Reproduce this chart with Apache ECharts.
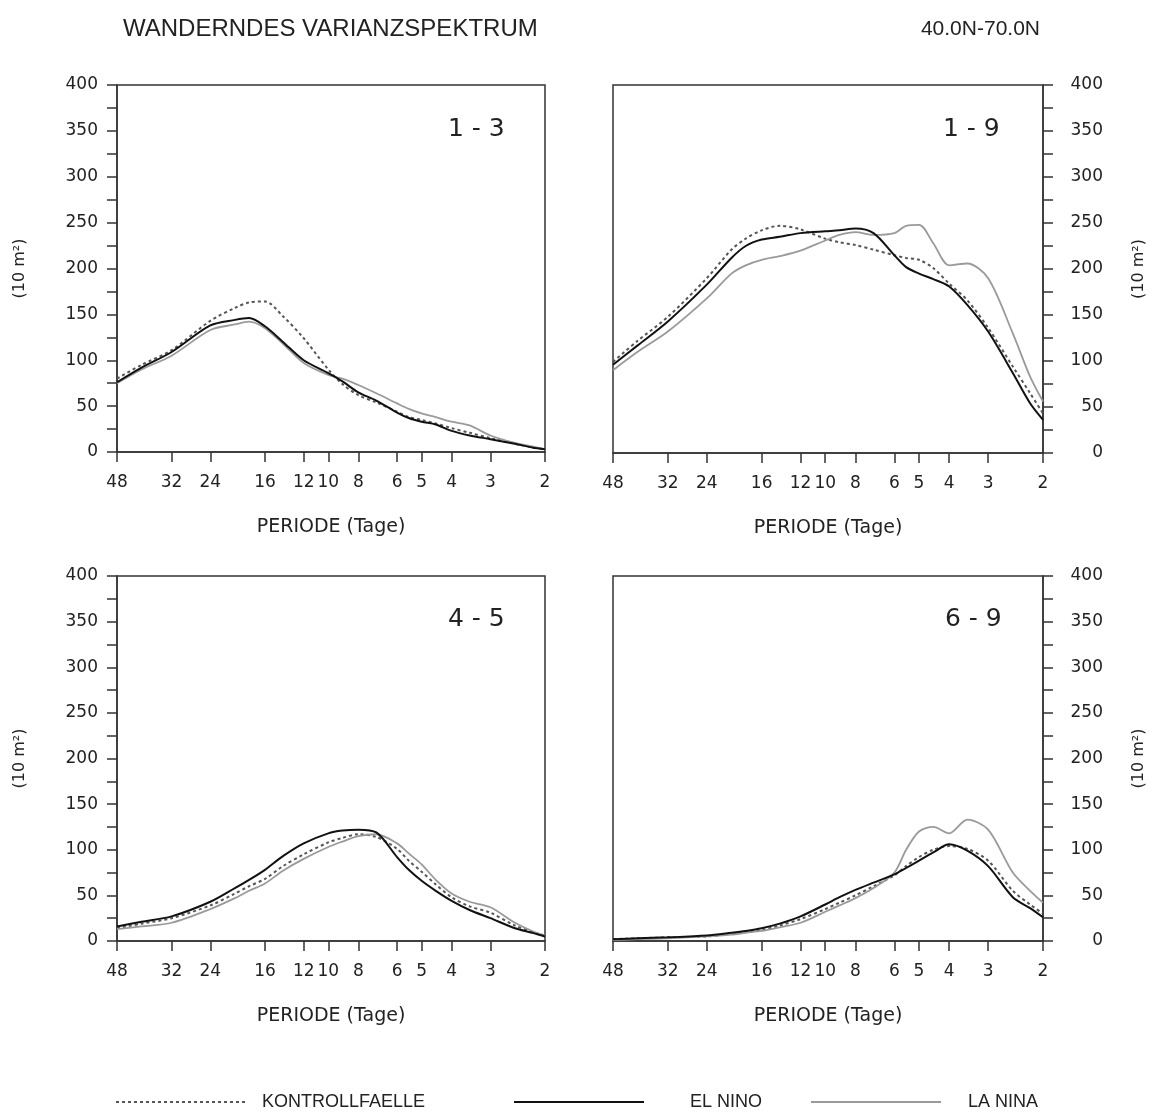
<!DOCTYPE html>
<html>
<head>
<meta charset="utf-8">
<script src="https://cdn.jsdelivr.net/npm/echarts@6/dist/echarts.min.js"></script>
<style>
  html, body { margin: 0; padding: 0; background: #fff; }
  #chart { width: 1153px; height: 1112px; }
</style>
</head>
<body>
<div id="chart"></div>
<script>
// Perioden (Tage), gemeinsame Stuetzstellen fuer alle Kurven
var periods = [48, 40, 32, 24, 20, 18, 16, 14, 12, 10, 9, 8, 7, 6, 5.5, 5, 4.5, 4, 3.5, 3, 2.5, 2.2, 2];
var tickPeriods = [48, 32, 24, 16, 12, 10, 8, 6, 5, 4, 3, 2];

// Wellenzahl 1-3
var kontroll13 = [80, 95, 111, 143, 157, 163, 164, 148, 124, 90, 74, 62, 54, 44, 38, 35, 31, 26, 21, 15, 9, 5, 3];
var elnino13   = [76, 92, 109, 138, 144, 146, 137, 120, 100, 86, 77, 65, 56, 43, 37, 33, 30, 23, 18, 14, 9, 5, 3];
var lanina13   = [75, 90, 105, 133, 139, 142, 135, 118, 97, 84, 80, 73, 64, 53, 47, 42, 38, 33, 29, 18, 10, 6, 3];

// Wellenzahl 1-9
var kontroll19 = [99, 122, 148, 190, 221, 233, 242, 247, 243, 233, 229, 226, 221, 215, 212, 210, 201, 184, 166, 136, 94, 65, 43];
var elnino19   = [96, 117, 143, 183, 212, 225, 232, 235, 239, 241, 242, 244, 239, 215, 202, 195, 189, 181, 161, 132, 87, 54, 36];
var lanina19   = [90, 110, 132, 168, 195, 204, 210, 214, 220, 231, 237, 240, 237, 239, 247, 248, 228, 204, 206, 190, 130, 83, 56];

// Wellenzahl 4-5
var kontroll45 = [14, 19, 25, 39, 52, 60, 68, 82, 95, 108, 113, 117, 114, 101, 88, 76, 62, 48, 38, 31, 17, 10, 6];
var elnino45   = [16, 21, 27, 43, 58, 67, 78, 93, 107, 118, 121, 122, 119, 92, 78, 66, 55, 44, 34, 25, 14, 9, 5];
var lanina45   = [13, 16, 20, 35, 47, 55, 63, 77, 90, 103, 109, 115, 117, 107, 96, 84, 67, 52, 43, 37, 20, 11, 6];

// Wellenzahl 6-9
var kontroll69 = [2, 3, 4, 5, 8, 10, 12, 17, 24, 35, 42, 50, 60, 72, 82, 92, 100, 104, 101, 88, 55, 40, 30];
var elnino69   = [2, 3, 4, 6, 9, 11, 14, 19, 27, 40, 48, 56, 64, 73, 80, 88, 97, 106, 99, 82, 48, 36, 26];
var lanina69   = [1, 2, 3, 5, 7, 9, 11, 15, 20, 32, 39, 47, 58, 75, 100, 120, 125, 118, 133, 122, 75, 55, 42];

var panelNames = ['1 - 3', '1 - 9', '4 - 5', '6 - 9'];
var seriesNames = ['KONTROLLFAELLE', 'EL NINO', 'LA NINA'];

var panels = [
    [kontroll13, elnino13, lanina13],
    [kontroll19, elnino19, lanina19],
    [kontroll45, elnino45, lanina45],
    [kontroll69, elnino69, lanina69]
];

var tickFont = 'DejaVu Sans';
var textColor = '#222';
var axisColor = '#333';

// x-Achse logarithmisch in der Periode
function periodToX(p) {
    return Math.log(48 / p);
}

function GetLineData(values) {
    var Ret = [];
    for (var i = 0; i < periods.length; i++) {
        Ret.push([periodToX(periods[i]), values[i]]);
    }
    return Ret;
}

var tickX = [];
for (var i = 0; i < tickPeriods.length; i++) {
    tickX.push(periodToX(tickPeriods[i]));
}

var grids = [
    { left: 117, top: 85, width: 428, height: 367 },
    { left: 613, top: 85, width: 430, height: 368 },
    { left: 117, top: 576, width: 428, height: 365 },
    { left: 613, top: 576, width: 430, height: 365 }
];

var lineStyles = [
    { color: '#555', width: 2, type: [3, 3] },
    { color: '#111', width: 2, type: 'solid' },
    { color: '#9a9a9a', width: 1.8, type: 'solid' }
];

var xAxes = [], yAxes = [], series = [];
for (var g = 0; g < 4; g++) {
    grids[g].show = true;
    grids[g].borderColor = axisColor;
    grids[g].borderWidth = 1.5;
    var right = (g % 2 === 1);

    xAxes.push({
        gridIndex: g,
        type: 'value',
        min: 0,
        max: periodToX(2),
        axisLine: { show: true, onZero: false, lineStyle: { color: axisColor, width: 1.5 } },
        axisTick: { show: true, customValues: tickX, length: 10, lineStyle: { color: axisColor, width: 1.5 } },
        axisLabel: {
            customValues: tickX,
            margin: 22,
            fontFamily: tickFont,
            fontSize: 17,
            color: textColor,
            formatter: function (v) {
                return String(Math.round(48 / Math.exp(v)));
            }
        },
        splitLine: { show: false },
        name: 'PERIODE (Tage)',
        nameLocation: 'middle',
        nameGap: 66,
        nameTextStyle: { fontFamily: tickFont, fontSize: 19, color: textColor }
    });

    yAxes.push({
        gridIndex: g,
        type: 'value',
        position: right ? 'right' : 'left',
        min: 0,
        max: 400,
        interval: 50,
        axisLine: { show: true, onZero: false, lineStyle: { color: axisColor, width: 1.5 } },
        axisTick: { show: true, length: 10, lineStyle: { color: axisColor, width: 1.5 } },
        minorTick: { show: true, splitNumber: 2, length: 10, lineStyle: { color: axisColor, width: 1.5 } },
        axisLabel: {
            margin: right ? 60 : 19,
            align: 'right',
            fontFamily: tickFont,
            fontSize: 17,
            color: textColor
        },
        splitLine: { show: false },
        name: '(10 m²)',
        nameLocation: 'middle',
        nameGap: right ? 88 : 89,
        nameRotate: 90,
        nameTextStyle: { fontFamily: tickFont, fontSize: 16, color: textColor }
    });

    for (var s = 0; s < 3; s++) {
        series.push({
            name: seriesNames[s],
            type: 'line',
            xAxisIndex: g,
            yAxisIndex: g,
            data: GetLineData(panels[g][s]),
            smooth: 0.3,
            symbol: 'none',
            lineStyle: lineStyles[s],
            itemStyle: { color: lineStyles[s].color },
            z: s === 1 ? 3 : 2
        });
    }
}

var panelLabelPos = [[448, 117], [943, 117], [448, 607], [945, 607]];
var graphics = [];
for (var p = 0; p < 4; p++) {
    graphics.push({
        type: 'text',
        left: panelLabelPos[p][0],
        top: panelLabelPos[p][1],
        style: { text: panelNames[p], font: '25px "DejaVu Sans"', fill: textColor }
    });
}

function makeLegend(name, left, textGap) {
    return {
        data: [name],
        left: left,
        top: 1088,
        itemWidth: 130,
        itemHeight: 16,
        selectedMode: false,
        itemStyle: { opacity: 0 },
        textStyle: {
            fontFamily: 'Liberation Sans',
            fontSize: 18,
            color: textColor,
            padding: [0, 0, 0, textGap]
        }
    };
}

var myChart = echarts.init(document.getElementById('chart'), null, { renderer: 'canvas' });
var option = {
    animation: false,
    backgroundColor: '#fff',
    title: [
        {
            text: 'WANDERNDES VARIANZSPEKTRUM',
            left: 118,
            top: 12,
            textStyle: { fontFamily: 'Liberation Sans', fontSize: 24, fontWeight: 'normal', color: textColor }
        },
        {
            text: '40.0N-70.0N',
            right: 108,
            top: 14,
            textStyle: { fontFamily: 'Liberation Sans', fontSize: 21, fontWeight: 'normal', color: textColor }
        }
    ],
    legend: [
        makeLegend('KONTROLLFAELLE', 110, 11),
        makeLegend('EL NINO', 508, 41),
        makeLegend('LA NINA', 805, 22)
    ],
    grid: grids,
    xAxis: xAxes,
    yAxis: yAxes,
    series: series,
    graphic: graphics
};
myChart.setOption(option);
</script>
</body>
</html>
